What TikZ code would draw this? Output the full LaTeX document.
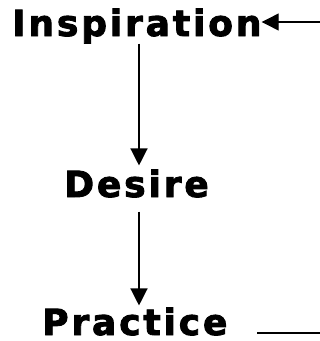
\documentclass[tikz,border=0pt]{standalone}
\usepackage{fontspec}
\setmainfont{Liberation Sans}
\newfontfamily\stagefont[LetterSpace=8,FakeBold=2.5]{DejaVu Sans Bold}
\usetikzlibrary{calc, arrows.meta}

\begin{document}
\begin{tikzpicture}[x=1pt, y=-1pt,
    stage/.style={inner sep=0pt, anchor=base west, font=\stagefont\fontsize{36}{36}\selectfont},
    flow/.style={-{Triangle[length=17pt, width=17pt]}, line width=1.3pt}]
        \useasboundingbox (0,0) rectangle (320,341);
        \node[stage] (insp) at (12,36) {Inspiration};
        \node[stage] (desire) at (64,197) {Desire};
        \node[stage] (prac) at (42,335) {Practice};
        \coordinate (col) at (139,0);
        \coordinate (inR) at (320,22);
        \coordinate (pracR) at (320,333);
        \draw[flow] (insp.south -| col) -- ($(desire.north -| col)+(0,-4)$);
        \draw[flow] ($(desire.south -| col)+(0,14)$) -- ($(prac.north -| col)+(0,-2)$);
        \draw[flow] (inR) -- (inR -| insp.east);
        \draw[line width=1.3pt] (pracR) -- ++(-63,0);
      \end{tikzpicture}
\end{document}
